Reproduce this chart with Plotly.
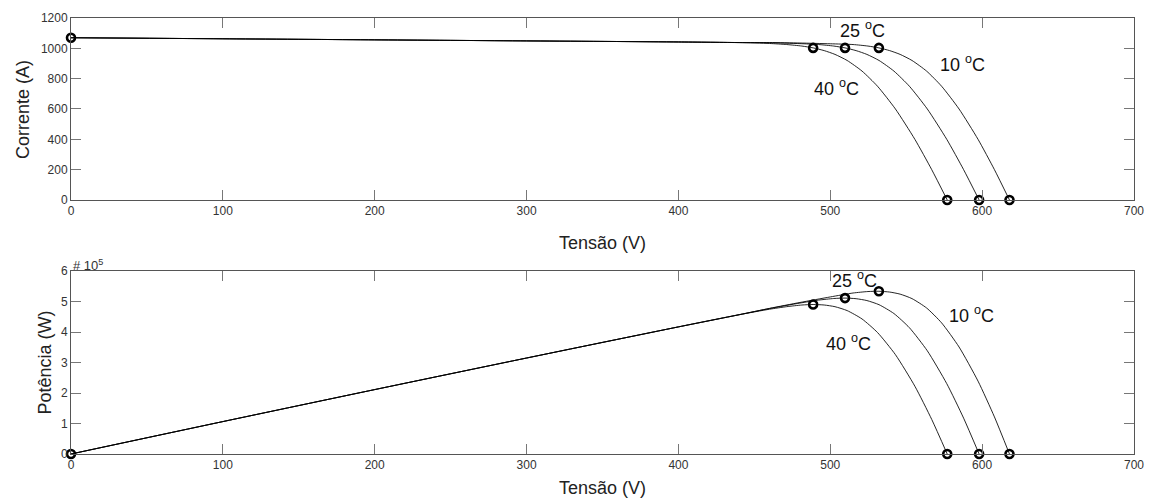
import plotly.graph_objects as go

# ---- I-V and P-V data of the PV array at three cell temperatures ----
temps = ["10", "25", "40"]

v_10c = [0, 100, 200, 300, 400, 440, 460, 480, 500, 515, 524.8, 532, 539.1, 546, 553.8, 563.4, 573.3, 584.8, 597.3, 608.1, 618]
i_10c = [1070, 1063, 1056, 1049, 1042, 1038, 1038, 1035, 1030, 1025, 1015, 1003, 985, 960, 920, 850, 750, 600, 400, 200, 0]
p_10c = [0, 106300, 211200, 314700, 416800, 456720, 477480, 496800, 515000, 527875, 532672, 533596, 531014, 524160, 509496, 478890, 429975, 350880, 238920, 121620, 0]

v_25c = [0, 100, 200, 300, 400, 440, 460, 480, 492.3, 502.3, 509.7, 517.0, 524.1, 532.1, 541.9, 552.1, 563.9, 576.7, 587.8, 598]
i_25c = [1070, 1063, 1056, 1049, 1042, 1038, 1037, 1031, 1025, 1015, 1003, 985, 960, 920, 850, 750, 600, 400, 200, 0]
p_25c = [0, 106300, 211200, 314700, 416800, 456720, 477020, 494880, 504608, 509835, 511229, 509245, 503136, 489532, 460615, 414075, 338340, 230680, 117560, 0]

v_40c = [0, 100, 200, 300, 400, 440, 460, 471.3, 481.3, 488.7, 496.0, 503.1, 511.1, 520.9, 531.1, 542.9, 555.7, 566.8, 577]
i_40c = [1070, 1063, 1056, 1049, 1042, 1038, 1032, 1025, 1015, 1003, 985, 960, 920, 850, 750, 600, 400, 200, 0]
p_40c = [0, 106300, 211200, 314700, 416800, 456720, 474720, 483083, 488520, 490166, 488560, 482976, 470212, 442765, 398325, 325740, 222280, 113360, 0]

# Characteristic points: short circuit, maximum power, open circuit
isc = 1070
vmp = [532, 509.7, 488.7]
imp = [1003, 1003, 1003]
pmp = [533596, 511229, 490166]
voc = [618, 598, 577]

# Label anchors for the temperature tags (data coordinates)
lbl_iv_x = [587, 521, 504]
lbl_iv_y = [903, 1121, 745]
lbl_pv_x = [593, 516, 512]
lbl_pv_y = [459000, 573000, 365000]

x_ticks = [0, 100, 200, 300, 400, 500, 600, 700]
iv_ticks = [0, 200, 400, 600, 800, 1000, 1200]
pv_ticks = [0, 100000, 200000, 300000, 400000, 500000, 600000]
pv_ticktext = ["0", "1", "2", "3", "4", "5", "6"]

FONT = "Liberation Sans, Arial, Helvetica, sans-serif"
CURVE = dict(color="rgba(0,0,0,0.85)", width=1)
MARK = dict(symbol="circle-open", size=8, color="black", line=dict(color="black", width=2.6))

fig = go.Figure()

curves = [(v_10c, i_10c, p_10c), (v_25c, i_25c, p_25c), (v_40c, i_40c, p_40c)]
for (v, i, p) in curves:
    fig.add_trace(go.Scatter(x=v, y=i, mode="lines", line=dict(shape="spline", smoothing=0.6, **CURVE),
                             xaxis="x", yaxis="y", showlegend=False, hoverinfo="skip"))
    fig.add_trace(go.Scatter(x=v, y=p, mode="lines", line=dict(shape="spline", smoothing=0.6, **CURVE),
                             xaxis="x2", yaxis="y2", showlegend=False, hoverinfo="skip"))

# markers on the I-V plot
fig.add_trace(go.Scatter(x=[0] + vmp + voc, y=[isc] + imp + [0, 0, 0], mode="markers", marker=MARK,
                         xaxis="x", yaxis="y", cliponaxis=False, showlegend=False))
# markers on the P-V plot
fig.add_trace(go.Scatter(x=[0] + vmp + voc, y=[0] + pmp + [0, 0, 0], mode="markers", marker=MARK,
                         xaxis="x2", yaxis="y2", cliponaxis=False, showlegend=False))

annotations = []
for k, t in enumerate(temps):
    annotations.append(dict(x=lbl_iv_x[k], y=lbl_iv_y[k], xref="x", yref="y",
                            text=f"{t} <sup>o</sup>C", showarrow=False,
                            font=dict(size=18, color="#111", family=FONT)))
    annotations.append(dict(x=lbl_pv_x[k], y=lbl_pv_y[k], xref="x2", yref="y2",
                            text=f"{t} <sup>o</sup>C", showarrow=False,
                            font=dict(size=18, color="#111", family=FONT)))

title_font = dict(size=18, color="#222", family=FONT)
annotations += [
    dict(x=0.5, y=0.484, xref="paper", yref="paper", text="Tensão (V)", showarrow=False,
         xanchor="center", yanchor="middle", font=title_font),
    dict(x=0.5, y=-0.078, xref="paper", yref="paper", text="Tensão (V)", showarrow=False,
         xanchor="center", yanchor="middle", font=title_font),
    dict(x=-0.0457, y=0.79, xref="paper", yref="paper", text="Corrente (A)", showarrow=False,
         textangle=-90, xanchor="center", yanchor="middle", font=title_font),
    dict(x=-0.0242, y=0.2104, xref="paper", yref="paper", text="Potência (W)", showarrow=False,
         textangle=-90, xanchor="center", yanchor="middle", font=title_font),
    dict(x=0.0, y=0.4335, xref="paper", yref="paper", text="# 10<sup>5</sup>", showarrow=False,
         xanchor="left", yanchor="middle", font=dict(size=13, color="#333", family=FONT)),
]

axis_common = dict(showline=True, linecolor="#555", linewidth=1, mirror="allticks",
                   ticks="inside", ticklen=10, tickcolor="#777", tickwidth=1,
                   showgrid=False, zeroline=False,
                   tickfont=dict(size=12, color="#333", family=FONT))

fig.update_layout(
    width=1155, height=498,
    margin=dict(l=71, r=11, t=18, b=44),
    paper_bgcolor="white", plot_bgcolor="white",
    xaxis=dict(domain=[0, 1], anchor="y", range=[0, 700], tickvals=x_ticks, **axis_common),
    yaxis=dict(domain=[0.5826, 1], anchor="x", range=[0, 1200], tickvals=iv_ticks, **axis_common),
    xaxis2=dict(domain=[0, 1], anchor="y2", range=[0, 700], tickvals=x_ticks, **axis_common),
    yaxis2=dict(domain=[0, 0.4197], anchor="x2", range=[0, 600000], tickvals=pv_ticks,
                ticktext=pv_ticktext, **axis_common),
    annotations=annotations,
    font=dict(family=FONT),
)

fig.write_html("out.html")
